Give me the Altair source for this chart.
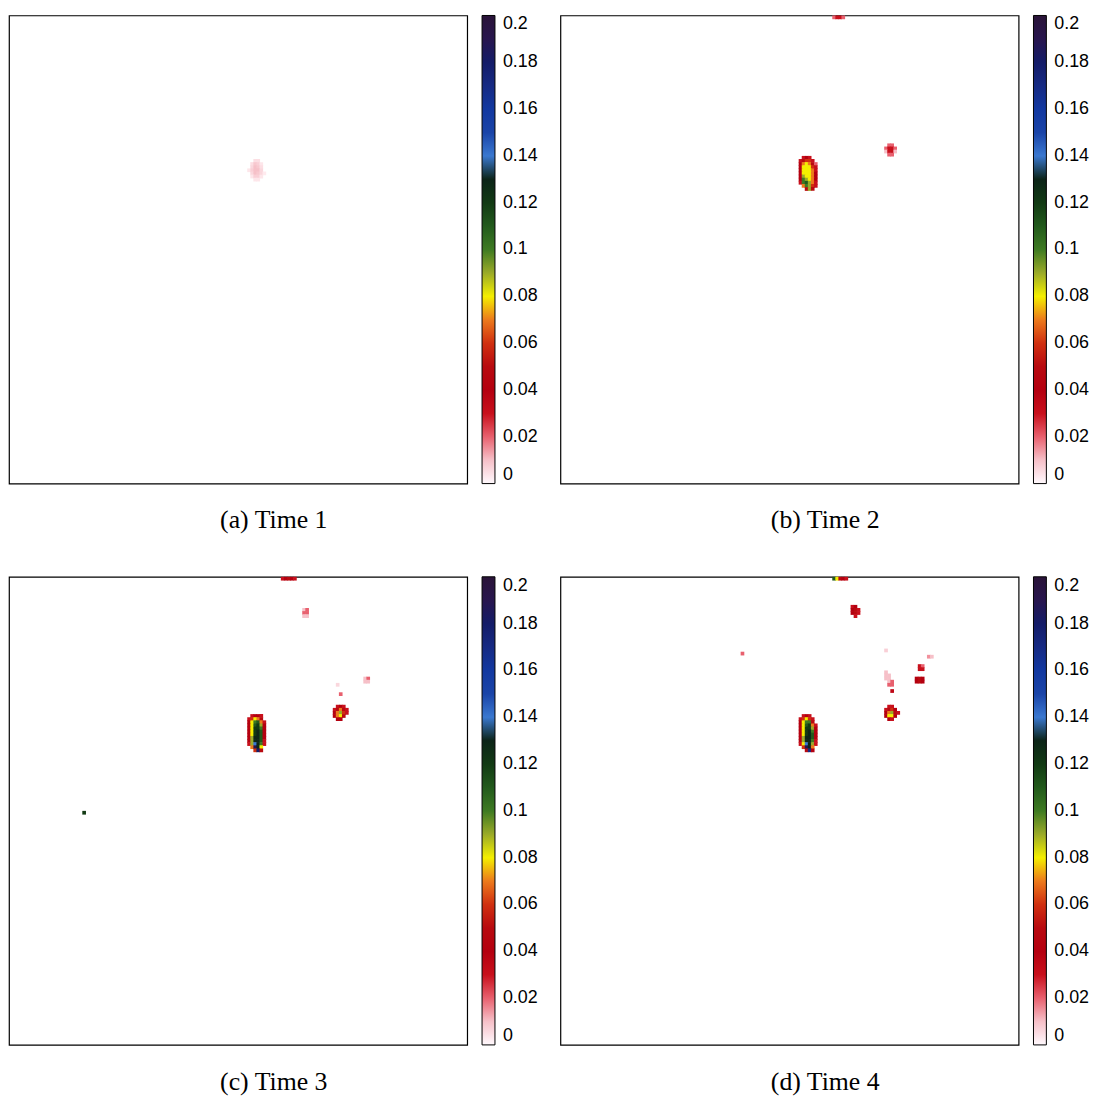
import altair as alt
import pandas as pd

# ---------------- data ----------------
GRID = 150  # cells across / down each field
CELL_OVERLAP = 0.2  # drawing overlap so neighbouring cells leave no seam

CAPTIONS = ["(a) Time 1", "(b) Time 2", "(c) Time 3", "(d) Time 4"]
LEGEND_TICKS = [0, 0.02, 0.04, 0.06, 0.08, 0.1, 0.12, 0.14, 0.16, 0.18, 0.2]

COLOR_STOPS = [0, 0.005, 0.01, 0.02, 0.03, 0.04, 0.05, 0.06, 0.07, 0.08,
               0.09, 0.1, 0.11, 0.12, 0.13, 0.14, 0.15, 0.16, 0.18, 0.2]
COLOR_RANGE = ["#ffffff", "#fde6ea", "#f6c0c8", "#e8606e", "#c8101c", "#b40010",
               "#b80a10", "#d03010", "#ec7a1c", "#f4ef00", "#9aaa28", "#3e7a22",
               "#225a1c", "#123a14", "#0c2418", "#3a78d0", "#1a44a8", "#1238a0",
               "#141c68", "#2a1438"]

# blobs: (column, row, matrix of values in hundredths)
PANEL_A = [
    (78, 46, [[0, 0, .6, .6, 0, 0],
              [0, .6, .9, .8, .5, 0],
              [0, .7, 1, .9, .6, 0],
              [.5, .8, 1, 1, .7, 0],
              [0, .7, 1, .9, .7, .4],
              [0, .5, .8, .8, .5, 0],
              [0, 0, .5, .5, 0, 0]]),
]

PANEL_B = [
    (78, 45, [[0, 3, 4, 3, 0, 0, 0],
              [3, 5, 6, 6, 3, 0, 0],
              [4, 7, 8, 7, 5, 2, 0],
              [4, 8, 8, 8, 6, 3, 0],
              [4, 8, 8, 8, 7, 3, 0],
              [4, 8, 8, 8, 7, 4, 0],
              [4, 9, 8, 8, 7, 4, 0],
              [4, 10, 9, 8, 7, 4, 0],
              [3, 10, 11, 9, 7, 3, 0],
              [0, 7, 10, 9, 6, 3, 0],
              [0, 0, 5, 9, 5, 0, 0]]),
    (106, 41, [[0, 2, 2, 0],
               [2, 3, 3, 2],
               [1, 3, 3, 1],
               [0, 2, 2, 0]]),
    (89, 0, [[2, 3, 3, 2]]),
]

PANEL_C = [
    (78, 44, [[0, 3, 4, 4, 3, 0, 0],
              [3, 6, 8, 7, 5, 0, 0],
              [4, 8, 10, 11, 7, 3, 0],
              [4, 8, 11, 12, 9, 4, 0],
              [4, 8, 12, 12, 10, 4, 0],
              [4, 8, 12, 13, 11, 4, 0],
              [4, 8, 12, 13, 11, 4, 0],
              [4, 9, 13, 13, 11, 4, 0],
              [4, 9, 13, 13, 11, 3, 0],
              [3, 9, 14, 13, 10, 3, 0],
              [0, 7, 19, 13, 8, 0, 0],
              [0, 0, 6, 18, 5, 0, 0]]),
    (106, 41, [[0, 3, 4, 3, 0],
               [3, 5, 7, 5, 3],
               [4, 7, 9, 6, 3],
               [4, 7, 8, 5, 0],
               [0, 4, 4, 0, 0]]),
    (89, 0, [[3, 4, 5, 4, 3]]),
    (96, 10, [[1, 2], [2, 2], [1, 1]]),
    (116, 32, [[1, 2], [1, 1]]),
    (107, 34, [[.7]]),
    (108, 37, [[2]]),
    (24, 75, [[12]]),
]

PANEL_D = [
    (78, 44, [[0, 3, 4, 3, 0, 0],
              [3, 6, 8, 6, 3, 0],
              [4, 8, 10, 10, 5, 0],
              [4, 8, 11, 12, 7, 3],
              [4, 8, 12, 12, 9, 4],
              [4, 8, 12, 13, 10, 4],
              [4, 8, 12, 13, 11, 4],
              [4, 9, 13, 13, 11, 4],
              [4, 9, 13, 13, 10, 3],
              [3, 8, 14, 13, 9, 3],
              [0, 6, 19, 13, 7, 0],
              [0, 0, 5, 17, 4, 0]]),
    (106, 41, [[0, 3, 3, 0, 0],
               [3, 5, 6, 4, 0],
               [4, 7, 9, 5, 3],
               [4, 8, 8, 4, 0],
               [0, 4, 3, 0, 0]]),
    (89, 0, [[11, 8, 5, 4, 3]]),
    (95, 9, [[3, 4, 0], [4, 5, 3], [4, 5, 3], [0, 3, 0]]),
    (59, 24, [[2]]),
    (106, 23, [[.8]]),
    (120, 25, [[1.5, 1]]),
    (117, 28, [[3, 2], [3, 3]]),
    (116, 32, [[4, 5, 4], [4, 5, 4]]),
    (106, 30, [[1, 0, 0], [1, 1, 0], [1, 1, 0], [0, 1, 2], [0, 2, 2]]),
    (108, 36, [[3.5]]),
]


def cells(blobs):
    rows = []
    for c0, r0, m in blobs:
        for i, line in enumerate(m):
            for j, v in enumerate(line):
                if v > 0:
                    rows.append({"c": c0 + j, "c2": c0 + j + 1 + CELL_OVERLAP,
                                 "r": r0 + i, "r2": r0 + i + 1 + CELL_OVERLAP,
                                 "v": v / 100})
    return pd.DataFrame(rows)


def panel(blobs, caption):
    df = cells(blobs)
    return alt.Chart(df).mark_rect().encode(
        x=alt.X("c:Q", scale=alt.Scale(domain=[0, GRID], nice=False, zero=False), axis=None),
        x2="c2:Q",
        y=alt.Y("r:Q", scale=alt.Scale(domain=[0, GRID], nice=False, zero=False, reverse=True), axis=None),
        y2="r2:Q",
        color=alt.Color(
            "v:Q",
            title=None,
            scale=alt.Scale(domain=COLOR_STOPS, range=COLOR_RANGE, clamp=True),
            legend=alt.Legend(
                values=LEGEND_TICKS,
                format=".2~f",
                gradientLength=472,
                gradientThickness=13,
                gradientStrokeColor="black",
                gradientStrokeWidth=1,
                labelFont="Liberation Sans",
                labelFontSize=18,
                labelColor="black",
                labelOverlap=False,
                labelOffset=8,
                offset=15,
            ),
        ),
    ).properties(
        width=462,
        height=472,
        title=alt.TitleParams(caption, orient="bottom", anchor="middle", frame="bounds",
                              font="Liberation Serif", fontSize=26, fontWeight="normal",
                              color="black", offset=23),
    )


pa = panel(PANEL_A, CAPTIONS[0])
pb = panel(PANEL_B, CAPTIONS[1])
pc = panel(PANEL_C, CAPTIONS[2])
pd_ = panel(PANEL_D, CAPTIONS[3])

top = alt.hconcat(pa, pb, spacing=20).resolve_scale(color="independent")
bottom = alt.hconcat(pc, pd_, spacing=20).resolve_scale(color="independent")

chart = alt.vconcat(top, bottom, spacing=42).resolve_scale(color="independent").properties(
    padding={"left": 0, "top": 2, "right": 0, "bottom": 0}
).configure_view(stroke="black", strokeWidth=1.2)

chart.save("out.html", embed_options={"renderer": "svg", "actions": False})
